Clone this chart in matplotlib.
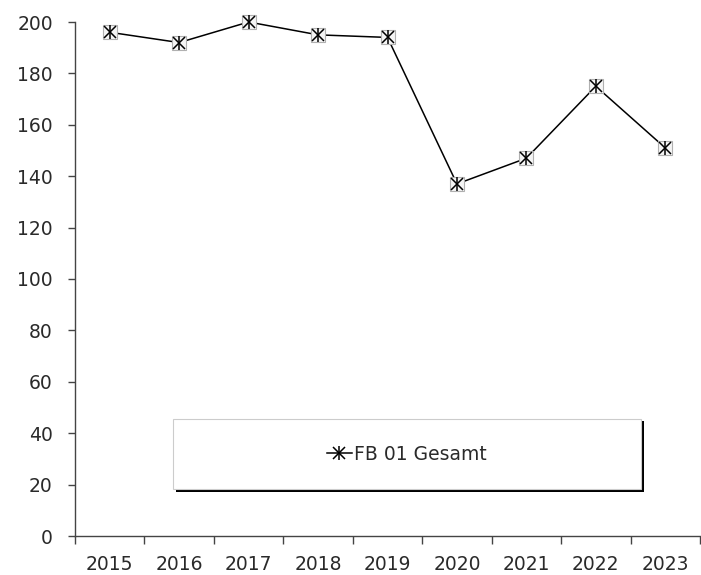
import matplotlib
matplotlib.use("Agg")
import matplotlib.pyplot as plt
from matplotlib.patches import Rectangle
from matplotlib.legend_handler import HandlerTuple
import numpy as np

years = ["2015", "2016", "2017", "2018", "2019", "2020", "2021", "2022", "2023"]
values = [196, 192, 200, 195, 194, 137, 147, 175, 151]
series_name = "FB 01 Gesamt"
y_ticks = [0, 20, 40, 60, 80, 100, 120, 140, 160, 180, 200]

plt.rcParams['font.family'] = ['DejaVu Sans']
text_color = '#2a2a2a'
axis_color = '#444444'
fsize = 13.5

fig = plt.figure(figsize=(7.01, 5.75), dpi=100)
ax = fig.add_axes([75 / 701, 1 - 536 / 575, 625 / 701, 514 / 575])

x = np.arange(len(years))
line, = ax.plot(x, values, color='black', linewidth=1.1, zorder=3, clip_on=False)
box, = ax.plot(x, values, linestyle='none', marker='s', markersize=10,
               markerfacecolor='#f5f5f5', markeredgecolor='#b0b0b0',
               markeredgewidth=0.8, zorder=4, clip_on=False)
xm, = ax.plot(x, values, linestyle='none', marker='x', markersize=9,
              markeredgecolor='black', markeredgewidth=1.1, zorder=5, clip_on=False)
vm, = ax.plot(x, values, linestyle='none', marker='|', markersize=10,
              markeredgecolor='black', markeredgewidth=1.1, zorder=5, clip_on=False)

ax.set_xlim(-0.5, len(years) - 0.5)
ax.set_ylim(0, 200)
ax.set_yticks(y_ticks)
ax.set_xticks(x)
ax.set_xticklabels(years)
ax.set_xticks(np.arange(-0.5, len(years)), minor=True)

for side in ['top', 'right']:
    ax.spines[side].set_visible(False)
for side in ['left', 'bottom']:
    ax.spines[side].set_color(axis_color)
    ax.spines[side].set_linewidth(1.0)

ax.tick_params(axis='x', which='major', length=0, pad=14,
               labelsize=fsize, labelcolor=text_color)
ax.tick_params(axis='x', which='minor', length=6, width=1.0, color=axis_color)
ax.tick_params(axis='y', length=5, width=1.0, color=axis_color, pad=11,
               labelsize=fsize, labelcolor=text_color)

# legend box with hard shadow
bx0, by0, bw, bh = 0.157, 0.091, 0.749, 0.137
ax.add_patch(Rectangle((bx0 + 0.004, by0 - 0.005), bw, bh, transform=ax.transAxes,
                       facecolor='black', edgecolor='none', zorder=6, clip_on=False))
ax.add_patch(Rectangle((bx0, by0), bw, bh, transform=ax.transAxes,
                       facecolor='white', edgecolor='#cccccc', linewidth=0.8,
                       zorder=7, clip_on=False))

leg = ax.legend([(line, xm, vm)], [series_name], handler_map={tuple: HandlerTuple(ndivide=1)},
                loc='center', bbox_to_anchor=(bx0 + bw / 2, by0 + bh / 2),
                frameon=False, fontsize=fsize, handlelength=1.3,
                handletextpad=0.15, labelcolor=text_color)
leg.set_zorder(8)

fig.savefig("out.png", dpi=100)
